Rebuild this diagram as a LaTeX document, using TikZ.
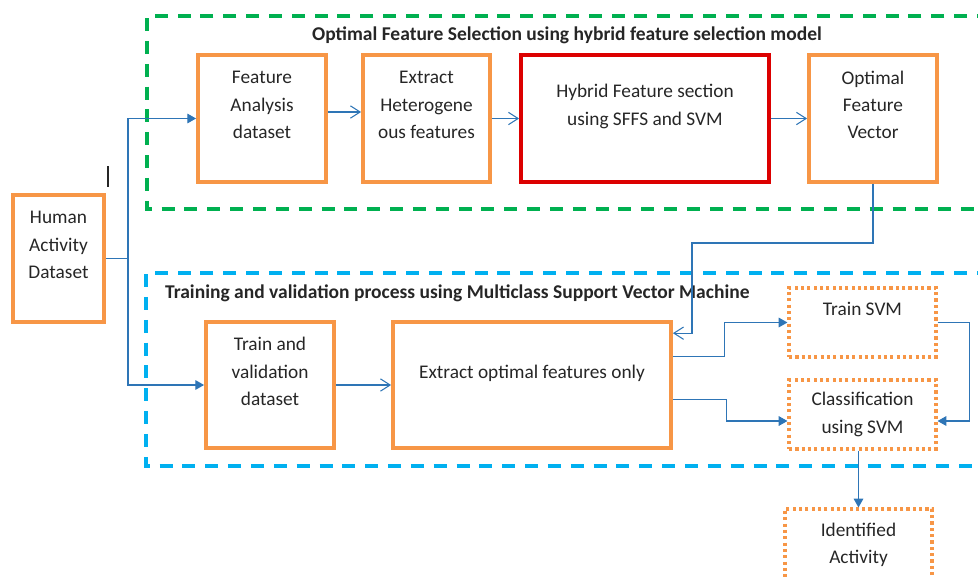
\documentclass[tikz,border=0pt]{standalone}
\usepackage{fontspec}
\setmainfont{Carlito}
\usetikzlibrary{arrows.meta}
\definecolor{boxorange}{RGB}{247,150,70}
\definecolor{boxred}{RGB}{220,0,0}
\definecolor{frgreen}{RGB}{0,176,80}
\definecolor{frblue}{RGB}{0,176,240}
\definecolor{linkblue}{RGB}{46,117,182}
\definecolor{txtgray}{RGB}{38,38,38}

\begin{document}
\begin{tikzpicture}[x=0.02cm,y=-0.02cm,
  font=\fontsize{11}{15.5}\selectfont,
  box/.style={draw=boxorange,line width=2.2pt,align=center,inner sep=0pt,text=txtgray},
  redbox/.style={box,draw=boxred},
  dotbox/.style={box,line width=1.8pt,dash pattern=on 1.8pt off 1.8pt},
  frame/.style={line width=1.8pt,dash pattern=on 7.4pt off 5.6pt},
  link/.style={draw=linkblue,line width=0.6pt},
  openarr/.style={link,-{Straight Barb[length=5.5pt,width=7pt]}},
  fillarr/.style={link,-{Triangle[length=5pt,width=5.5pt]}},
  title/.style={font=\fontsize{11.1}{13}\selectfont\bfseries,text=txtgray}]
\useasboundingbox (0,0) rectangle (978,576);
\clip (0,0) rectangle (978,576);
\draw[frame,draw=frgreen] (990,16) -- (147,16) -- (147,209) -- (990,209);
\draw[frame,draw=frblue] (990,273) -- (146,273) -- (146,466) -- (990,466);
\node[title] (fstitle) at (567,35) {Optimal Feature Selection using hybrid feature selection model};
\node[title,anchor=west] (tvtitle) at (159,293) {Training and validation process using Multiclass Support Vector Machine};
\node[box,minimum width=1.82cm,minimum height=2.54cm] (human) at (58.5,258.5) {Human\\Activity\\Dataset\\\mbox{}};
\node[box,minimum width=2.56cm,minimum height=2.54cm] (fad) at (262,118.5) {Feature\\Analysis\\dataset\\\mbox{}};
\node[box,minimum width=2.54cm,minimum height=2.54cm] (ehf) at (426.5,118.5) {Extract\\Heterogene\\ous features\\\mbox{}};
\node[redbox,minimum width=4.96cm,minimum height=2.54cm] (hyb) at (645,118.5) {Hybrid Feature section\\using SFFS and SVM\\\mbox{}};
\node[box,minimum width=2.56cm,minimum height=2.54cm] (ofv) at (873,118.5) {Optimal\\Feature\\Vector\\\mbox{}};
\node[box,minimum width=2.56cm,minimum height=2.52cm] (tvd) at (270,385) {Train and\\validation\\dataset\\\mbox{}};
\node[box,minimum width=5.56cm,minimum height=2.52cm] (eof) at (532,385) {Extract optimal features only\\\mbox{}};
\node[dotbox,minimum width=2.94cm,minimum height=1.38cm] (tsvm) at (862.5,322.5) {Train SVM\\\mbox{}};
\node[dotbox,minimum width=2.94cm,minimum height=1.38cm] (csvm) at (862.5,414.5) {Classification\\using SVM};
\node[dotbox,minimum width=2.94cm,minimum height=1.42cm] (ida) at (858.5,544.5) {Identified\\Activity};
\draw[txtgray,line width=0.6pt] (108,166) -- (108,187);
\coordinate (split) at (128,258.5);
\coordinate (jog) at (692,243);
\draw[link] (human.east) -- (split);
\draw[fillarr] (split) |- (fad);
\draw[fillarr] (split) |- (tvd);
\draw[openarr] ([yshift=3.7pt]fad.east) -- ([yshift=3.7pt]ehf.west);
\draw[openarr] (ehf) -- (hyb);
\draw[openarr] (hyb) -- (ofv);
\draw[openarr] (ofv.south) |- (jog) |- ([yshift=29.5pt]eof.east);
\draw[openarr] (tvd.east) -- (eof.west);
\draw[fillarr] ([yshift=16pt]eof.east) -- ++(52,0) |- (tsvm.west);
\draw[fillarr] ([yshift=-8.5pt]eof.east) -- ++(54,0) |- ([yshift=-3.7pt]csvm.west);
\draw[fillarr] (tsvm.east) -- ++(32,0) |- ([yshift=-3.7pt]csvm.east);
\draw[fillarr] (ida.north |- csvm.south) -- (ida.north);
\end{tikzpicture}
\end{document}
